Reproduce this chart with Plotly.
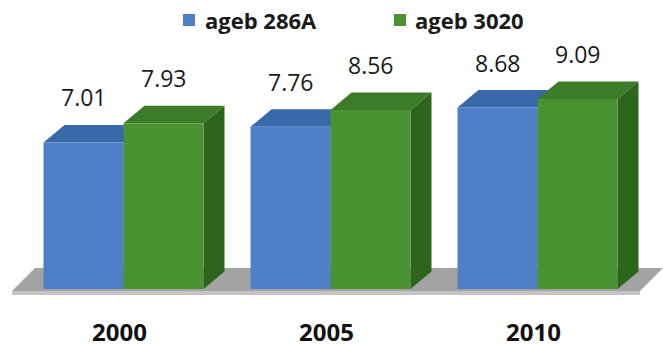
import plotly.graph_objects as go

# Data
years = ["2000", "2005", "2010"]
series_names = ["ageb 286A", "ageb 3020"]
ageb_286a = [7.01, 7.76, 8.68]
ageb_3020 = [7.93, 8.56, 9.09]

# Styling for the pseudo-3D column chart
W, H = 663, 348
PX_PER_CAT = 207.0          # pixels between category centres
PX_PER_UNIT = 20.9          # pixels per value unit
X0_PX, Y0_PX = 123.5, 289.0 # pixel position of the first category / value zero
BAR_W = 80.0 / PX_PER_CAT   # width of one column in category units
DX = 21.0 / PX_PER_CAT      # depth offset (x)
DY = 17.5 / PX_PER_UNIT     # depth offset (y)

colors = {
    "ageb 286A": {"front": "#4d80c6", "top": "#3a69ab", "side": "#2f5a94"},
    "ageb 3020": {"front": "#4b9232", "top": "#3c7b27", "side": "#2e651d"},
}

x_range = [-X0_PX / PX_PER_CAT, (W - X0_PX) / PX_PER_CAT]
y_range = [-(H - Y0_PX) / PX_PER_UNIT, Y0_PX / PX_PER_UNIT]

fig = go.Figure()


def poly(xs, ys, color):
    fig.add_trace(go.Scatter(
        x=list(xs) + [xs[0]], y=list(ys) + [ys[0]],
        mode="lines", fill="toself", fillcolor=color,
        line=dict(width=0, color=color),
        hoverinfo="skip", showlegend=False,
    ))


# Floor slab
fx0, fx1 = x_range[0] + 12 / PX_PER_CAT, x_range[1] - 23 / PX_PER_CAT
floor_front = -2.0 / PX_PER_UNIT
floor_back = floor_front + 23.0 / PX_PER_UNIT
edge_h = 4.0 / PX_PER_UNIT
poly([fx0, fx1, fx1, fx0], [floor_front - edge_h, floor_front - edge_h, floor_front, floor_front], "#c4c4c4")
poly([fx0, fx1, fx1 + 23 / PX_PER_CAT, fx0 + 23 / PX_PER_CAT],
     [floor_front, floor_front, floor_back, floor_back], "#a3a3a3")

# Columns: top face, side face, then front face
for i in range(len(years)):
    for k, (name, vals) in enumerate([(series_names[0], ageb_286a), (series_names[1], ageb_3020)]):
        v = vals[i]
        c = colors[name]
        left = i - BAR_W + k * BAR_W
        right = left + BAR_W
        poly([left, right, right + DX, left + DX], [v, v, v + DY, v + DY], c["top"])
        poly([right, right + DX, right + DX, right], [0, DY, v + DY, v], c["side"])
        poly([left, right, right, left], [0, 0, v, v], c["front"])
        fig.add_annotation(
            x=(left + right) / 2, y=v, yshift=45, text=f"{v:.2f}",
            showarrow=False, xanchor="center", yanchor="middle",
            font=dict(family="Open Sans", size=23, color="#1a1a1a"),
        )

# Category labels
for i, yr in enumerate(years):
    fig.add_annotation(
        x=i - 0.02, y=0, yshift=-42, text=f"<b>{yr}</b>",
        showarrow=False, xanchor="center", yanchor="middle",
        font=dict(family="Open Sans", size=24, color="#111111"),
    )

# Legend: coloured square followed by the series name
legend_pos = [(183, 203), (394, 413)]
for (sq_x, txt_x), name in zip(legend_pos, series_names):
    fig.add_shape(
        type="rect", xref="paper", yref="paper",
        x0=sq_x / W, x1=(sq_x + 12) / W, y0=1 - 26 / H, y1=1 - 14 / H,
        fillcolor=colors[name]["front"], line=dict(width=0),
    )
    fig.add_annotation(
        xref="paper", yref="paper", x=txt_x / W, y=1 - 20 / H,
        text=f"<b>{name}</b>", showarrow=False,
        xanchor="left", yanchor="middle",
        font=dict(family="Open Sans", size=22, color="#1a1a1a"),
    )

fig.update_layout(
    width=W, height=H,
    margin=dict(l=0, r=0, t=0, b=0),
    paper_bgcolor="white", plot_bgcolor="white",
    xaxis=dict(range=x_range, visible=False, fixedrange=True),
    yaxis=dict(range=y_range, visible=False, fixedrange=True),
    showlegend=False,
)

fig.write_html("out.html")
